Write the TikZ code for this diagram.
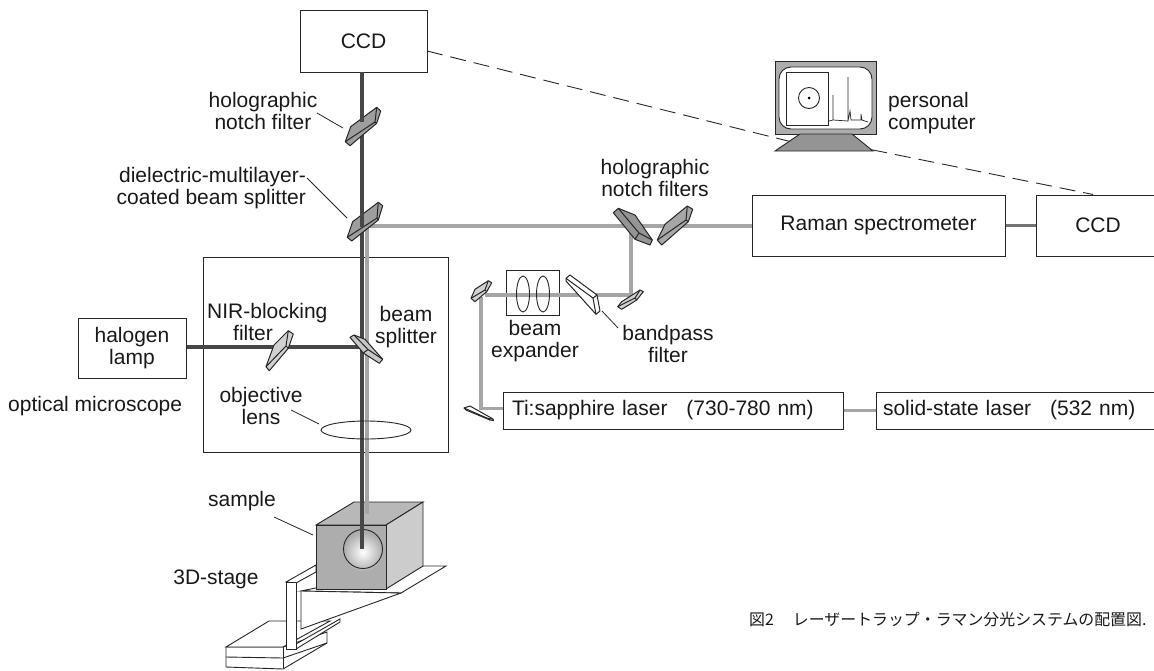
\documentclass[tikz,border=0pt]{standalone}
\usepackage{fontspec}
\setmainfont{Liberation Sans}
\newfontfamily\cjkfont{Noto Sans CJK JP}
\newcommand\labelfont{\fontsize{21}{22}\selectfont}
\newcommand\prismbox[8]{%
  \filldraw[prismline,fill=#1] (#2)--(#3)--(#4)--(#5)--(#6)--(#7)--cycle;
  \draw[prismline] (#8)--(#2) (#8)--(#4) (#8)--(#6);}
\tikzset{
  prismline/.style={draw=black!85,line width=1pt,line join=round},
  boxn/.style={draw=black!85,line width=1pt,fill=white,inner sep=0pt,font=\labelfont,text=black!90,align=center},
  lab/.style={inner sep=0pt,font=\labelfont,text=black!90,align=center},
  leader/.style={draw=black!85,line width=0.8pt},
  darkbeam/.style={draw=black!72,line width=3.6pt},
  greybeam/.style={draw=black!35,line width=3.6pt},
  fineline/.style={draw=black!85,line width=0.9pt},
}
\begin{document}
\begin{tikzpicture}[x=1pt,y=-1pt]
\useasboundingbox (0,0) rectangle (1154,670);
% boxes
\node[boxn,minimum width=127pt,minimum height=62pt] (ccdtop) at (363.5,41) {CCD};
\node[boxn,minimum width=253pt,minimum height=61pt] (raman) at (878.5,225.5) {Raman spectrometer};
\node[boxn,minimum width=124pt,minimum height=61pt] (ccdright) at (1098,225.5) {CCD};
\node[boxn,minimum width=245pt,minimum height=195pt,fill=none] (micro) at (325.5,354.5) {};
\node[boxn,minimum width=108pt,minimum height=60pt] (lamp) at (132,348) {halogen\\lamp};
\node[boxn,minimum width=340pt,minimum height=37pt,text width=322pt,align=left] (tisa) at (673,410.5) {Ti:sapphire laser\hspace{0.9em}(730-780 nm)};
\node[boxn,minimum width=284pt,minimum height=37pt,text width=270pt,align=left] (solid) at (1018,410.5) {solid-state laser\hspace{0.9em}(532 nm)};
\node[boxn,minimum width=53pt,minimum height=45pt] (expander) at (532.5,292.5) {};
% junction coordinates
\coordinate (dkbot) at (362,549);
\coordinate (gybot) at (367,514);
\coordinate (bsh) at (367,226);
\coordinate (lampj) at (362,347);
\coordinate (turn1) at (631,226);
\coordinate (turn2) at (631,295);
\coordinate (bpend) at (485,295);
\coordinate (turn3) at (481,297);
\coordinate (turn4) at (481,408.5);
% dashed link
\coordinate (dash1) at (427,51);
\coordinate (dash2) at (800,144);
\coordinate (dash3) at (873,150);
\coordinate (dash4) at (1093,194.5);
\draw[draw=black!85,line width=0.9pt,dash pattern=on 16pt off 8pt] (dash1) -- (dash2) -- (dash3) -- (dash4);
% beams
\draw[greybeam] (bsh) -- (gybot);
\draw[greybeam] (bsh) -- (bsh -| raman.west);
\draw[greybeam] (turn1) -- (turn2) -- (bpend);
\draw[greybeam] (turn3) -- (turn4) -- (turn4 -| tisa.west);
\draw[greybeam,line width=2.8pt] (solid.west -| tisa.east) -- (solid.west);
\draw[darkbeam,draw=black!55] (raman.east) -- (ccdright.west);
\draw[darkbeam] (ccdtop.south -| dkbot) -- (362,516);
\draw[darkbeam] (lamp.east |- lampj) -- (lampj);
% expander lenses
\draw[fineline] (523,294) ellipse [x radius=6.5, y radius=18];
\draw[fineline] (543,294) ellipse [x radius=6.5, y radius=18];
% objective lens
\draw[fineline] (366,430) ellipse [x radius=45, y radius=9];
% optics
\prismbox{black!38}{345.3,141.7}{350.7,126.7}{376.7,107.3}{380.7,111}{376.7,123.3}{350,145.7}{375,122}
\prismbox{black!38}{347.3,237.3}{352.7,221.7}{378.3,202.3}{382.7,205.7}{378.3,220}{351.7,241}{377,218}
\draw[darkbeam] (362,72) -- (362,122);
\draw[darkbeam] (362,180) -- (362,227);
\prismbox{black!42}{618.3,208.3}{635,215}{652.3,240}{650,245}{635,239.3}{613.3,212.7}{639,233}
\prismbox{black!35}{657.3,240}{665,224.3}{687.3,206}{692.7,209.3}{688.3,221.7}{661.7,245}{686,220}
\prismbox{black!18}{617.7,306.7}{621.7,301.7}{640,290}{643.3,291.7}{636.7,300}{621.7,309.3}{635,298}
\prismbox{black!18}{471,298.3}{475,289.3}{488.3,280.7}{491.7,282.7}{486.7,291.7}{475,301.7}{485,290}
\prismbox{white}{566,278.3}{570,275}{597,295}{600,311}{596,314.3}{566,281}{593,298}
\prismbox{black!18}{266,366.7}{274,345}{288.3,330.7}{293.3,334}{288.3,348.3}{269.3,370.7}{286,346}
\prismbox{black!22}{354,335}{365,339.3}{382.7,359.3}{379.3,363.3}{363.3,353}{350,337.3}{368,349.5}
\prismbox{white}{464,408}{470,406}{493,419}{493.5,420.5}{490,420}{466,410}{488,418.5}
% 3D stage
\draw[fineline,fill=white] (226,647) -- (226,667) -- (283,669) -- (327,643) -- (327,632) -- (283,647) -- cycle;
\draw[fineline,fill=white] (226,647) -- (269,621) -- (285,621) -- (330,621) -- (283,647) -- cycle;
\draw[fineline] (226,657) -- (283,658) -- (327,643);
\draw[fineline] (283,647) -- (283,669);
\draw[fineline,fill=white] (296,644) -- (340,619) -- (340,622) -- (296,649) -- cycle;
\draw[fineline,fill=white] (286,582) -- (316,565) -- (316,572) -- (296,583) -- cycle;
\draw[fineline,fill=white] (286,582) rectangle (296,649);
\draw[fineline,fill=white] (301,591) -- (401,593) -- (446,566) -- (423,566) -- cycle;
\draw[fineline,fill=white] (301,591) -- (301,629) -- (340,615) -- (401,593) -- cycle;
% sample cube
\draw[fineline,fill=black!28] (316,525) -- (354,502) -- (423,502) -- (386,525) -- cycle;
\draw[fineline,fill=black!20] (386,525) -- (423,502) -- (423,566) -- (386,589) -- cycle;
\draw[fineline,fill=black!32] (316,525) rectangle (386,589);
\draw[greybeam] (367,500) -- (gybot);
\shade[inner color=white,outer color=black!32] (363,552) circle [radius=19.5];
\draw[fineline] (363,549) circle [radius=19.5];
\draw[darkbeam] (362,452) -- (dkbot);
% computer
\fill[black!32] (775,61) rectangle (876,134);
\draw[fineline] (775,61) rectangle (876,134);
\draw[fineline,fill=white,rounded corners=12pt] (779,67) rectangle (872,129);
\draw[fineline,fill=white] (786,72) rectangle (828,125);
\draw[fineline] (809,98) circle [radius=10.5];
\fill[black] (809,98) circle [radius=1.5];
\draw[fineline,line width=0.7pt] (829,121) -- (833,120) -- (833,95) -- (833,120) -- (848,121) -- (848,77) -- (848,121) -- (850,111) -- (851,120) -- (861,120) -- (861,114) -- (862,120) -- (868,122);
\draw[fineline,fill=black!42] (800,134) -- (852,134) -- (873,151) -- (775,151) -- cycle;
% labels
\node[lab] (t1) at (263,111) {holographic\\notch filter};
\node[lab,align=right,anchor=east] (t2) at (306,188) {dielectric-multilayer-\\coated beam splitter};
\node[lab] (t3) at (655,178) {holographic\\notch filters};
\node[lab,anchor=west,align=left] (t4) at (888,113) {personal\\computer};
\node[lab] (t5) at (535,341) {beam\\expander};
\node[lab] (t6) at (668,344) {bandpass\\filter};
\node[lab,align=left,anchor=west] (t7) at (207,322) {NIR-blocking\\\hspace*{26pt}filter};
\node[lab] (t8) at (406,327) {beam\\splitter};
\node[lab] (t9) at (261,406) {objective\\lens};
\node[lab,anchor=west] (t10) at (8,406) {optical microscope};
\node[lab] (t11) at (242,501) {sample};
\node[lab] (t12) at (216,579) {3D-stage};
\node[inner sep=0pt,anchor=west,text=black!90,font=\cjkfont\fontsize{15.9}{18}\selectfont] (cap) at (749,619) {図2\hspace{1.2em}レーザートラップ・ラマン分光システムの配置図.};
% leaders
\coordinate (l1a) at (317,113); \coordinate (l1b) at (343,128);
\coordinate (l2a) at (307,178); \coordinate (l2b) at (347,218);
\coordinate (l3a) at (602,311); \coordinate (l3b) at (618,328);
\coordinate (l4a) at (291,410); \coordinate (l4b) at (319,424);
\coordinate (l5a) at (274,517); \coordinate (l5b) at (313,535);
\draw[leader] (l1a) -- (l1b);
\draw[leader] (l2a) -- (l2b);
\draw[leader] (l3a) -- (l3b);
\draw[leader] (l4a) -- (l4b);
\draw[leader] (l5a) -- (l5b);
\end{tikzpicture}
\end{document}
